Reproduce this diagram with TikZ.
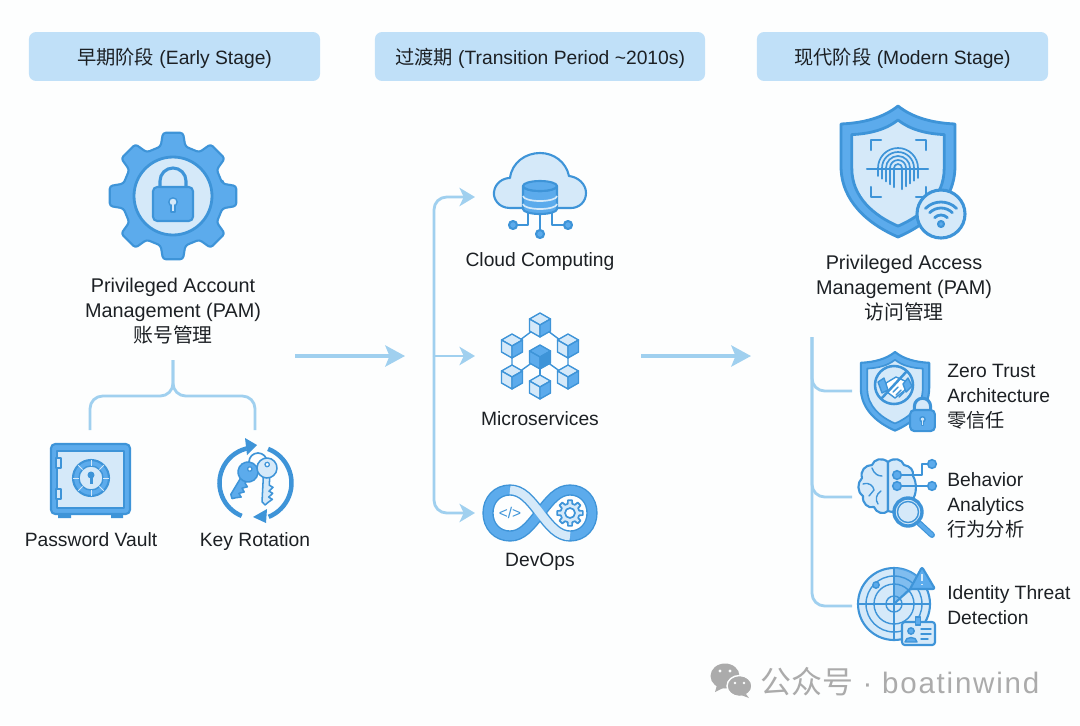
\documentclass[tikz,border=0pt]{standalone}
\usepackage{fontspec}
\setmainfont{Liberation Sans}
\newfontfamily\cjk{Noto Sans CJK SC}
\usetikzlibrary{positioning,calc,arrows.meta}
\definecolor{pagebg}{HTML}{FDFEFE}
\definecolor{barfill}{HTML}{C0E0F8}
\definecolor{linecol}{HTML}{A0D0EF}
\definecolor{iconedge}{HTML}{3E94D8}
\definecolor{iconmid}{HTML}{5CABEC}
\definecolor{iconpale}{HTML}{D5E9F9}
\definecolor{inktext}{HTML}{1C2024}
\definecolor{markgray}{HTML}{ABABAB}
\tikzset{
  headbar/.style={fill=barfill, rounded corners=5pt, minimum width=#1*0.7113pt, minimum height=34.8pt, inner sep=0pt, text=inktext, text height=13pt, text depth=2pt, font=\fontsize{13.7}{17}\selectfont},
  itemtext/.style={text=inktext, font=\fontsize{13.7}{17.8}\selectfont, inner sep=0pt},
  pamtext/.style={itemtext, align=center, font=\fontsize{14.1}{17.8}\selectfont},
  flowarrow/.style={draw=linecol, line width=2.6pt, -{Stealth[length=14pt,width=15pt,inset=3pt]}},
  branchline/.style={draw=linecol, line width=2pt, rounded corners=9pt},
  edgeline/.style={draw=iconedge, line width=1.5pt, line join=round, line cap=round},
  fineline/.style={draw=iconedge, line width=1pt, line join=round, line cap=round},
  midshape/.style={edgeline, fill=iconmid},
  paleshape/.style={edgeline, fill=iconpale},
}
% shapes that come back more than once
\newcommand{\gearpath}[2]{(-14:#1) \foreach \gearang in {0,45,...,315}{ -- (\gearang-14:#1) -- (\gearang-9:#2) -- (\gearang+9:#2) -- (\gearang+14:#1)} -- cycle}
\newcommand{\shieldpath}{(0,0) .. controls (15,12) and (35,17) .. (57,18) -- (57,60) .. controls (57,95) and (30,118) .. (0,131) .. controls (-30,118) and (-57,95) .. (-57,60) -- (-57,18) .. controls (-35,17) and (-15,12) .. (0,0) -- cycle}
\newcommand{\lockicon}[3]{
  \begin{scope}[shift={(#1,#2)},scale=#3]
    \draw[edgeline, line width=2.2pt, fill=iconpale] (-13,1) -- (-13,-6) arc (180:360:13) -- (13,1);
    \draw[midshape, fill=iconmid, rounded corners=3pt] (-20,0) rectangle (20,34);
    \draw[edgeline, fill=iconpale, line width=1pt] (0,15) circle (4.2);
    \draw[edgeline, fill=iconpale, line width=1pt] (-1.8,18) -- (-1.8,25) -- (1.8,25) -- (1.8,18);
  \end{scope}
}
\newcommand{\cubeicon}[5]{
  \begin{scope}[shift={(#1,#2)}]
    \draw[fineline, fill=#3] (0,-12) -- (10.5,-6) -- (0,0) -- (-10.5,-6) -- cycle;
    \draw[fineline, fill=#4] (-10.5,-6) -- (0,0) -- (0,12) -- (-10.5,6) -- cycle;
    \draw[fineline, fill=#5] (10.5,-6) -- (0,0) -- (0,12) -- (10.5,6) -- cycle;
  \end{scope}
}
\newcommand{\keyicon}[5]{
  \begin{scope}[shift={(#1,#2)},rotate=#3]
    \draw[edgeline, line width=1.1pt, fill=#4] (-3.2,6) -- (3.2,6) -- (3.2,#5-20) -- (7,#5-18) -- (3.2,#5-14) -- (7,#5-12) -- (3.2,#5-8) -- (7,#5-6) -- (3.2,#5-3) -- (0,#5) -- (-3.2,#5-3) -- cycle;
    \draw[edgeline, line width=1.1pt, fill=#4] (0,0) circle (10);
    \draw[edgeline, line width=0.9pt, fill=white] (0,-3.5) circle (2.2);
  \end{scope}
}

\begin{document}
\begin{tikzpicture}[x=0.025cm, y=-0.025cm]
  \fill[pagebg] (0,0) rectangle (1080,725);
  \useasboundingbox (0,0) rectangle (1080,725);

  % Stage bars
  \node[headbar=291] (barEarly) at (174.5,56.5) {{\cjk 早期阶段} (Early Stage)};
  \node[headbar=330] (barTrans) at (540,56.5) {{\cjk 过渡期} (Transition Period \textasciitilde2010s)};
  \node[headbar=291] (barModern) at (902.5,56.5) {{\cjk 现代阶段} (Modern Stage)};

  % Early stage: gear with lock at (173,196)
  \begin{scope}[shift={(173,196)}]
    \draw[midshape, rounded corners=2pt] \gearpath{51}{64};
    \draw[edgeline, fill=iconpale, line width=2pt] (0,0) circle (39);
  \end{scope}
  \lockicon{173}{187}{1}
  \node[pamtext] (pamAccount) at (173,311) {Privileged Account\\Management (PAM)\\{\cjk 账号管理}};

  \coordinate (treeTop) at (173,360);
  \coordinate (treeFork) at (173,396);
  \coordinate (vaultDrop) at (90,430);
  \coordinate (keyDrop) at (255,430);
  \draw[branchline] (treeTop) -- (treeFork) -| (vaultDrop);
  \draw[branchline] (treeTop) -- (treeFork) -| (keyDrop);

  % Password vault
  \fill[iconedge] (58,512) rectangle (71,518) (111,512) rectangle (123,518);
  \draw[midshape, rounded corners=3pt] (51,444) rectangle (130,514);
  \draw[edgeline, fill=iconpale, line width=1.1pt] (57,451) rectangle (124,508);
  \draw[fineline, fill=iconpale] (56,458) rectangle (61,468) (56,489) rectangle (61,499);
  \draw[edgeline, fill=iconmid] (91,478) circle (18);
  \draw[fineline, fill=iconpale] (91,478) circle (12);
  \foreach \dialang in {0,45,...,315}{
    \draw[draw=iconpale, line width=0.6pt] (\dialang:12) ++(91,478) -- ++(\dialang:6);
  }
  \fill[iconedge] (91,475) circle (3.5);
  \fill[iconedge] (89.5,476) rectangle (92.5,484);
  \node[itemtext] (vaultLabel) at (91,540) {Password Vault};

  % Key rotation
  \draw[draw=iconedge, line width=3.2pt] (255,483) ++(112:35.5) arc (112:256:35.5);
  \fill[iconedge] (257,445) -- (245,438) -- (247,455) -- cycle;
  \draw[draw=iconedge, line width=3.2pt] (255,483) ++(-69:36.5) arc (-69:68:36.5);
  \fill[iconedge] (253,517) -- (267,509) -- (266,523) -- cycle;
  \draw[edgeline, line width=1.2pt] (258,462) circle (9);
  \keyicon{248}{472}{-31}{iconmid}{31}
  \keyicon{267}{468}{-3}{iconpale}{37}
  \node[itemtext] (keyLabel) at (255,541.5) {Key Rotation};

  % Arrows between the stages
  \coordinate (leftFrom) at (295,356);
  \coordinate (leftTo) at (405,356);
  \coordinate (rightFrom) at (641,356);
  \coordinate (rightTo) at (751,356);
  \draw[flowarrow] (leftFrom) -- (leftTo);
  \draw[flowarrow] (rightFrom) -- (rightTo);

  % Branch to the three transition items
  \coordinate (splitMid) at (434,356);
  \coordinate (cloudTo) at (475,197);
  \coordinate (microTo) at (475,356);
  \coordinate (opsTo) at (475,513);
  \draw[branchline, -{Stealth[length=11pt,width=13pt,inset=3pt]}] (splitMid) |- (cloudTo);
  \draw[branchline, -{Stealth[length=11pt,width=13pt,inset=3pt]}] (splitMid) |- (opsTo);
  \draw[branchline, -{Stealth[length=11pt,width=13pt,inset=3pt]}] (splitMid) -- (microTo);

  % Cloud with database
  \draw[paleshape] (510,208) .. controls (498,208) and (493,198) .. (494,192) .. controls (495,183) and (503,178) .. (510,178) .. controls (512,162) and (526,153) .. (540,153) .. controls (554,153) and (566,162) .. (569,176) .. controls (578,177) and (586,184) .. (586,193) .. controls (586,202) and (579,208) .. (571,208) -- cycle;
  \draw[edgeline] (528,208) -- (528,225) -- (513,225);
  \draw[edgeline] (552,208) -- (552,225) -- (568,225);
  \draw[edgeline] (540,208) -- (540,234);
  \draw[midshape] (513,225) circle (4) (568,225) circle (4) (540,234) circle (4);
  \draw[midshape] (523,186) -- (523,209) arc (180:0:17 and 5) -- (557,186) arc (0:180:17 and 5) -- cycle;
  \draw[midshape] (540,186) ellipse (17 and 5);
  \draw[draw=iconpale, line width=1.2pt] (523,196) arc (180:0:17 and 5) (523,204) arc (180:0:17 and 5);
  \node[itemtext] (cloudLabel) at (540,261.5) {Cloud Computing};

  % Microservices: links first, cubes on top
  \draw[fineline] (512,346) -- (540,325) -- (568,346) -- (568,377) -- (540,357) -- (512,377) -- cycle;
  \draw[fineline] (540,357) -- (540,387);
  \cubeicon{540}{325}{iconpale}{iconpale}{iconmid}
  \cubeicon{512}{346}{iconpale}{iconpale}{iconmid}
  \cubeicon{568}{346}{iconpale}{iconpale}{iconmid}
  \cubeicon{512}{377}{iconpale}{iconpale}{iconmid}
  \cubeicon{568}{377}{iconpale}{iconpale}{iconmid}
  \cubeicon{540}{387}{iconpale}{iconpale}{iconmid}
  \cubeicon{540}{357}{iconmid}{iconmid}{iconedge}
  \node[itemtext] (microLabel) at (540,419) {Microservices};

  % DevOps loop
  \draw[draw=iconedge, line width=8pt] (540,513) .. controls (530,500) and (522,490) .. (510,490) .. controls (497,490) and (488,500) .. (488,513) .. controls (488,526) and (497,536) .. (510,536) .. controls (522,536) and (530,526) .. (540,513) .. controls (550,500) and (558,490) .. (570,490) .. controls (583,490) and (592,500) .. (592,513) .. controls (592,526) and (583,536) .. (570,536) .. controls (558,536) and (550,526) .. (540,513);
  \draw[draw=iconmid, line width=6pt] (540,513) .. controls (550,500) and (558,490) .. (570,490) .. controls (583,490) and (592,500) .. (592,513) .. controls (592,526) and (583,536) .. (570,536);
  \draw[draw=iconmid, line width=6pt] (510,490) .. controls (497,490) and (488,500) .. (488,513) .. controls (488,526) and (497,536) .. (510,536) .. controls (522,536) and (530,526) .. (540,513);
  \draw[draw=iconpale, line width=6pt] (510,490) .. controls (522,490) and (530,500) .. (540,513) .. controls (550,526) and (558,536) .. (570,536);
  \node[text=iconedge, inner sep=0pt, font=\fontsize{11}{13}\selectfont] (codeMark) at (510,513) {</>};
  \begin{scope}[shift={(570,513)}]
    \draw[fineline, fill=iconpale, line width=1.2pt] \gearpath{9.5}{13};
    \draw[fineline, fill=white, line width=1.2pt] (0,0) circle (5);
  \end{scope}
  \node[itemtext] (opsLabel) at (540,562) {DevOps};

  % Modern stage: big shield at (898,106)
  \begin{scope}[shift={(898,106)}]
    \draw[midshape, line width=2pt] \shieldpath;
    \begin{scope}[shift={(0,14)},scale=0.81]
      \draw[paleshape, line width=2pt] \shieldpath;
    \end{scope}
  \end{scope}
  \draw[edgeline] (871,150) -- (871,140) -- (881,140) (916,140) -- (926,140) -- (926,150) (871,187) -- (871,197) -- (881,197) (916,197) -- (926,197) -- (926,187);
  \foreach \fpr in {4,8,12,16,20}{
    \draw[fineline, line width=1.2pt] ($(898,168)+(-\fpr,8+0.7*20-0.7*\fpr)$) -- ($(898,168)+(-\fpr,0)$) arc (180:360:\fpr) -- ($(898,168)+(\fpr,10+0.7*20-0.7*\fpr)$);
  }
  \draw[edgeline] (867,169) -- (928,169);
  \draw[edgeline, fill=iconpale, line width=2.2pt] (941,214) circle (24);
  \foreach \wifir in {9,16,22}{
    \draw[edgeline, line width=2pt] (941,224) ++(225:\wifir) arc (225:315:\wifir);
  }
  \draw[midshape] (941,224) circle (3);
  \node[pamtext] (pamAccess) at (904,288) {Privileged Access\\Management (PAM)\\{\cjk 访问管理}};

  % Tree to the three modern items
  \coordinate (railTop) at (812,337);
  \coordinate (trustEnd) at (852,391);
  \coordinate (behaveEnd) at (852,497);
  \coordinate (threatEnd) at (852,606);
  \draw[branchline] (railTop) |- (threatEnd);
  \draw[branchline] (railTop) |- (trustEnd);
  \draw[branchline] (railTop) |- (behaveEnd);

  % Zero trust
  \begin{scope}[shift={(895,352)},scale=0.6]
    \draw[midshape, line width=1.5pt] \shieldpath;
    \begin{scope}[shift={(0,13)},scale=0.81]
      \draw[paleshape, line width=1.2pt] \shieldpath;
    \end{scope}
  \end{scope}
  \draw[edgeline, fill=iconpale, line width=1.8pt] (894,385) circle (19);
  \draw[fineline, fill=white] (886,383) -- (896,377) -- (905,381) -- (905,390) -- (895,398) -- (887,392) -- cycle;
  \draw[fineline, fill=iconmid] (878,382) -- (884,378) -- (888,390) -- (882,393) -- cycle;
  \draw[fineline, fill=iconmid] (908,378) -- (912,386) -- (906,392) -- (903,384) -- cycle;
  \draw[fineline] (893,392) -- (898,387) (896,395) -- (901,390) (899,397) -- (904,392);
  \draw[edgeline, line width=1.8pt] (881,399) -- (907,371);
  \lockicon{922.5}{410}{0.62}
  \node[itemtext, anchor=west, align=left] (trustLabel) at (947,397) {Zero Trust\\Architecture\\{\cjk 零信任}};

  % Behavior analytics
  \draw[paleshape] (888,462) .. controls (882,457) and (874,459) .. (872,465) .. controls (865,465) and (860,471) .. (862,478) .. controls (857,483) and (857,492) .. (863,496) .. controls (862,503) and (868,509) .. (874,507) .. controls (876,513) and (884,515) .. (888,511) -- cycle;
  \draw[paleshape] (888,462) .. controls (894,457) and (902,459) .. (904,465) .. controls (910,466) and (914,470) .. (913,476) .. controls (917,482) and (917,495) .. (912,500) .. controls (908,508) and (895,514) .. (888,511) -- cycle;
  \draw[fineline] (863,484) .. controls (870,482) and (873,486) .. (874,490) (872,468) .. controls (874,474) and (878,476) .. (882,476) (881,491) .. controls (876,494) and (875,500) .. (878,504) (874,490) -- (869,496);
  \draw[edgeline] (897,475) -- (922,475) -- (922,464) -- (932,464) (897,486) -- (932,486);
  \draw[midshape, line width=1.1pt] (897,475) circle (4.3) (897,486) circle (4.3) (932,464) circle (4.3) (932,486) circle (4.3);
  \draw[draw=iconedge, line width=4.2pt, line cap=round] (919,523) -- (932,535);
  \draw[draw=iconmid, line width=2.6pt, line cap=round] (919,523) -- (932,535);
  \draw[draw=iconedge, line width=2.4pt, fill=iconpale] (908,512) circle (14);
  \draw[fineline] (908,512) circle (10.5);
  \node[itemtext, anchor=west, align=left] (behaveLabel) at (947,505.5) {Behavior\\Analytics\\{\cjk 行为分析}};

  % Identity threat radar
  \draw[edgeline, fill=iconpale] (894,604) circle (36);
  \fill[iconmid, opacity=0.7] (894,604) -- (894,568) arc (270:322:36) -- cycle;
  \foreach \ringr in {8,20,28}{
    \draw[fineline] (894,604) circle (\ringr);
  }
  \draw[fineline] (858,604) -- (930,604) (894,568) -- (894,640);
  \draw[edgeline] (894,604) -- (912,587);
  \draw[midshape, line width=1pt] (876,585) circle (3.2);
  \draw[midshape, rounded corners=1.5pt] (922,567) -- (935,589) -- (910,589) -- cycle;
  \draw[draw=iconpale, line width=1.2pt] (922,574) -- (922,581) (922,584) -- (922,585);
  \draw[paleshape, rounded corners=2pt] (902,622) rectangle (935,645);
  \draw[fineline, fill=iconmid] (915.5,617) rectangle (920.5,625);
  \draw[fineline, fill=iconmid] (911,631) circle (3.2);
  \draw[fineline, fill=iconmid] (905,642) .. controls (905,636) and (917,636) .. (917,642) -- cycle;
  \draw[fineline] (921,629) -- (931,629) (921,634) -- (931,634) (921,639) -- (928,639);
  \node[itemtext, anchor=west, align=left] (threatLabel) at (947,605.5) {Identity Threat\\Detection};

  % Account mark bottom right
  \fill[markgray] (725,676) ellipse (14.5 and 12.5);
  \fill[markgray] (717,685) -- (715,692) -- (723,688) -- cycle;
  \draw[pagebg, line width=1pt, fill=markgray] (739.5,686) ellipse (12.5 and 10.5);
  \fill[markgray] (746,694) -- (749,698) -- (741,695) -- cycle;
  \fill[pagebg] (720,671) circle (1.7) (730,671) circle (1.7) (735,683) circle (1.4) (744,683) circle (1.4);
  \node[text=markgray, anchor=west, inner sep=0pt, font=\fontsize{21}{25}\selectfont] (markText) at (760,682) {{\fontsize{22}{25}\selectfont\cjk 公众号}\hspace{1pt} · \hspace{1pt}\addfontfeatures{LetterSpace=6}boatinwind};
\end{tikzpicture}
\end{document}
